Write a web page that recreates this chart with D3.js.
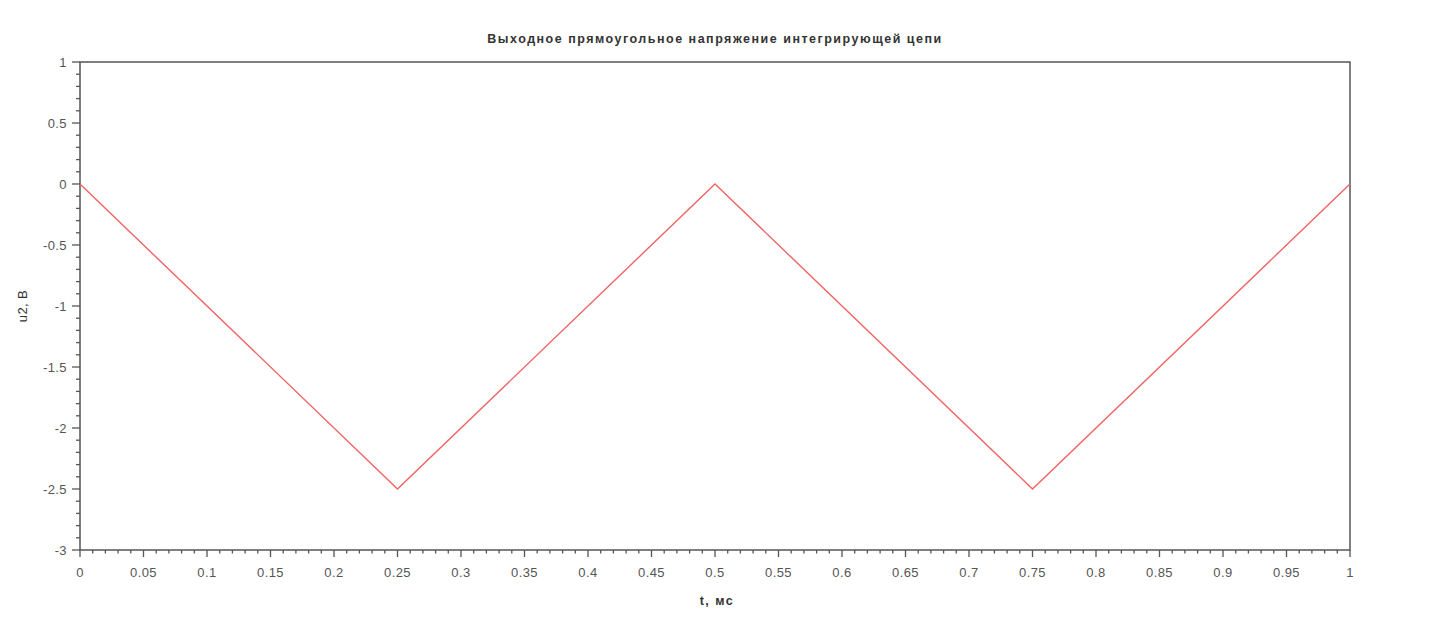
<!DOCTYPE html>
<html><head><meta charset="utf-8">
<script src="https://cdn.jsdelivr.net/npm/d3@7"></script>
<style>body{margin:0;background:#fff;}svg{display:block;}</style>
</head><body>
<script>
const timeMs = [0, 0.25, 0.5, 0.75, 1];
const voltage = [0, -2.5, 0, -2.5, 0];
const xTickValues = [0,0.05,0.1,0.15,0.2,0.25,0.3,0.35,0.4,0.45,0.5,0.55,0.6,0.65,0.7,0.75,0.8,0.85,0.9,0.95,1];
const yTickValues = [1,0.5,0,-0.5,-1,-1.5,-2,-2.5,-3];
const titleText = "Выходное прямоугольное напряжение интегрирующей цепи";
const xLabel = "t, мс";
const yLabel = "u2, В";

const W = 1429, H = 617;
const m = {l:80, r:79, t:62, b:67};
const svg = d3.select("body").append("svg").attr("width", W).attr("height", H);
const x = d3.scaleLinear().domain([0,1]).range([m.l, W - m.r]);
const y = d3.scaleLinear().domain([-3,1]).range([H - m.b, m.t]);
const axisColor = "#555";
const font = "'Liberation Sans', Arial, sans-serif";

// box
svg.append("rect").attr("x", x(0)).attr("y", y(1)).attr("width", x(1)-x(0)).attr("height", y(-3)-y(1))
  .attr("fill","none").attr("stroke", axisColor).attr("stroke-width", 1.5);

// x minor ticks
const xMinor = d3.range(0, 101).map(i => i/100);
svg.append("g").selectAll("line").data(xMinor).join("line")
  .attr("x1", d => x(d)).attr("x2", d => x(d))
  .attr("y1", y(-3)).attr("y2", (d,i) => y(-3) + (i % 5 === 0 ? 7 : 3.5))
  .attr("stroke", axisColor).attr("stroke-width", 1.3);
// y minor ticks
const yMinor = d3.range(0, 41).map(i => -3 + i/10);
svg.append("g").selectAll("line").data(yMinor).join("line")
  .attr("y1", d => y(d)).attr("y2", d => y(d))
  .attr("x1", x(0)).attr("x2", (d,i) => x(0) - (i % 5 === 0 ? 8 : 4))
  .attr("stroke", axisColor).attr("stroke-width", 1.3);

const fmt = d => String(+d.toFixed(2));
svg.append("g").selectAll("text").data(xTickValues).join("text")
  .attr("x", d => x(d)).attr("y", y(-3) + 27)
  .attr("text-anchor","middle").attr("font-family", font).attr("font-size", 13).attr("letter-spacing", 0.4).attr("fill", "#555")
  .text(fmt);
svg.append("g").selectAll("text").data(yTickValues).join("text")
  .attr("x", x(0) - 13).attr("y", d => y(d) + 4.5)
  .attr("text-anchor","end").attr("font-family", font).attr("font-size", 13).attr("letter-spacing", 0.4).attr("fill", "#555")
  .text(fmt);

// data line
const pts = timeMs.map((t,i) => [t, voltage[i]]);
svg.append("path").datum(pts)
  .attr("d", d3.line().x(d => x(d[0])).y(d => y(d[1])))
  .attr("fill","none").attr("stroke","#f06464").attr("stroke-width", 1.4);

// title & labels
svg.append("text").attr("x", (x(0)+x(1))/2).attr("y", 43).attr("text-anchor","middle")
  .attr("font-family", font).attr("font-size", 12.5).attr("font-weight","bold").attr("letter-spacing", 1.5)
  .attr("fill","#333").text(titleText);
svg.append("text").attr("x", (x(0)+x(1))/2 + 2).attr("y", 605).attr("text-anchor","middle")
  .attr("font-family", font).attr("font-size", 12.5).attr("font-weight","bold").attr("letter-spacing", 1.5)
  .attr("fill","#333").text(xLabel);
svg.append("text").attr("transform", `translate(27,${(y(1)+y(-3))/2}) rotate(-90)`).attr("text-anchor","middle")
  .attr("font-family", font).attr("font-size", 13).attr("letter-spacing", 0.4).attr("fill","#333").text(yLabel);
</script>
</body></html>
